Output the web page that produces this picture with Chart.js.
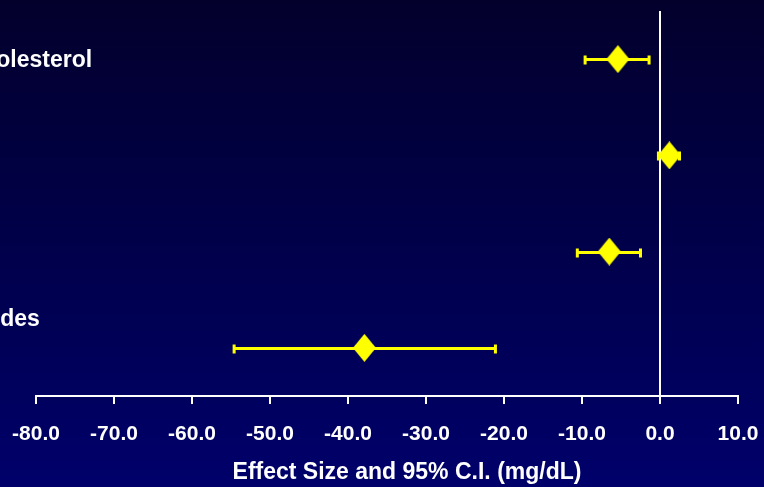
<!DOCTYPE html>
<html>
<head>
<meta charset="utf-8">
<script src="https://cdn.jsdelivr.net/npm/chart.js@4.4.1/dist/chart.umd.min.js"></script>
<style>
  html, body { margin: 0; padding: 0; }
  body { width: 764px; height: 487px; overflow: hidden;
         background: linear-gradient(to bottom, #03002c 0%, #00004a 50%, #00006b 100%); }
  canvas { display: block; }
</style>
</head>
<body>
<canvas id="chart" width="764" height="487"></canvas>
<script>
// outcome rows, top to bottom
const outcomes = ['Total Cholesterol', 'HDL', 'LDL', 'Triglycerides'];
// effect size and 95% C.I. (mg/dL)
const effect = [-5.4, 1.2, -6.5, -37.9];
const ciLow = [-9.6, -0.2, -10.6, -54.6];
const ciHigh = [-1.4, 2.5, -2.5, -21.1];
const axisTitle = 'Effect Size and 95% C.I. (mg/dL)';

const YELLOW = '#ffff00';
const FONT = '"Liberation Sans", Arial, sans-serif';

// diamond marker (a bit taller than wide)
const diamond = document.createElement('canvas');
diamond.width = 23;
diamond.height = 28;
(function () {
    const d = diamond.getContext('2d');
    d.fillStyle = YELLOW;
    d.beginPath();
    d.moveTo(11.5, 0);
    d.lineTo(23, 14);
    d.lineTo(11.5, 28);
    d.lineTo(0, 14);
    d.closePath();
    d.fill();
})();

// error bars + row labels + axis title
const forestPlugin = {
    id: 'forest',
    beforeDatasetsDraw(chart) {
        const { ctx, scales: { x, y } } = chart;
        ctx.save();
        ctx.fillStyle = YELLOW;
        ctx.strokeStyle = YELLOW;
        ctx.lineWidth = 3;
        outcomes.forEach((_, i) => {
            const py = Math.round(y.getPixelForValue(i + 1));
            const x1 = x.getPixelForValue(ciLow[i]);
            const x2 = x.getPixelForValue(ciHigh[i]);
            ctx.beginPath();
            ctx.moveTo(x1, py + 0.5);
            ctx.lineTo(x2, py + 0.5);
            ctx.stroke();
            ctx.fillRect(x1 - 1.5, py - 3.5, 3, 9);
            ctx.fillRect(x2 - 1.5, py - 3.5, 3, 9);
        });
        ctx.restore();
    },
    afterDraw(chart) {
        const { ctx, scales: { y } } = chart;
        // labels start left of the visible area (picture is cropped)
        const labelX = [-94, -94, -94, -102];
        const labelShift = [2, 2, 2, -28];
        ctx.save();
        ctx.fillStyle = '#ffffff';
        ctx.font = 'bold 23px ' + FONT;
        ctx.textAlign = 'left';
        ctx.textBaseline = 'middle';
        outcomes.forEach((label, i) => {
            ctx.fillText(label, labelX[i], y.getPixelForValue(i + 1) + labelShift[i]);
        });
        ctx.textAlign = 'center';
        ctx.fillText(axisTitle, 407, 473);
        ctx.restore();
    }
};

new Chart(document.getElementById('chart'), {
    type: 'scatter',
    data: {
        datasets: [{
            data: effect.map((v, i) => ({ x: v, y: i + 1 })),
            pointStyle: diamond,
            pointHoverRadius: 0,
            backgroundColor: YELLOW,
            borderColor: YELLOW
        }]
    },
    options: {
        responsive: false,
        animation: false,
        layout: { padding: { left: 36, right: 26, top: 11, bottom: 0 } },
        plugins: { legend: { display: false }, tooltip: { enabled: false } },
        scales: {
            x: {
                type: 'linear',
                min: -80,
                max: 10,
                afterFit: (scale) => {
                    scale.height = 91;
                    scale.paddingLeft = 0;
                    scale.paddingRight = 0;
                },
                ticks: {
                    stepSize: 10,
                    color: '#ffffff',
                    font: { family: FONT, size: 21, weight: 'bold' },
                    padding: 18,
                    maxRotation: 0,
                    callback: (v) => v.toFixed(1)
                },
                grid: {
                    color: (c) => (c.tick && c.tick.value === 0 ? '#ffffff' : 'transparent'),
                    lineWidth: 2,
                    tickColor: '#ffffff',
                    tickWidth: 2,
                    tickLength: 8
                },
                border: { color: '#ffffff', width: 2 }
            },
            y: {
                type: 'linear',
                display: false,
                reverse: true,
                min: 0.5,
                max: 4.5
            }
        }
    },
    plugins: [forestPlugin]
});
</script>
</body>
</html>
